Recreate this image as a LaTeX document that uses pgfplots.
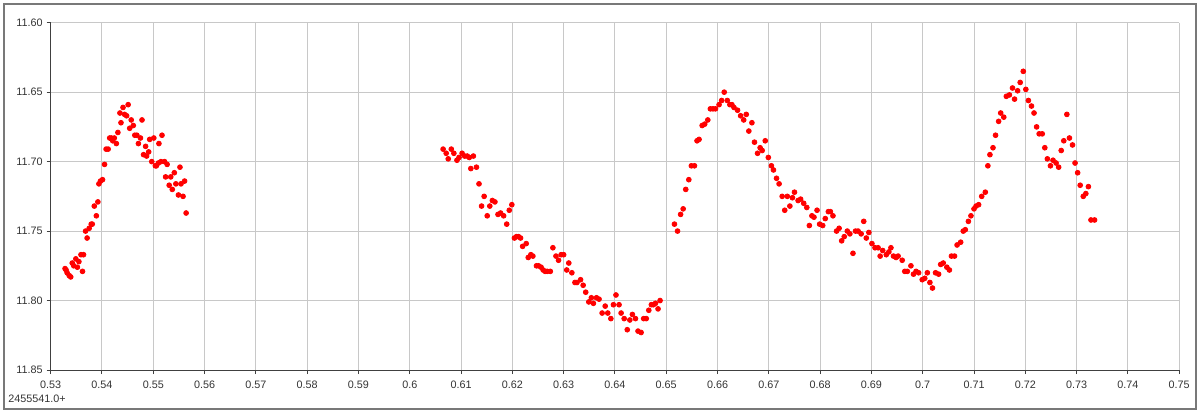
\documentclass[border=0pt]{standalone}
\usepackage{pgfplots}
\pgfplotsset{compat=1.18}
\usepackage{fontspec}
\setmainfont{Liberation Sans}

% 1 px of the reference = 0.5pt
\definecolor{gridgray}{RGB}{200,200,200}
\definecolor{framegray}{RGB}{120,120,120}
\definecolor{axisdark}{RGB}{64,64,64}

\begin{document}
\begin{tikzpicture}
\path[use as bounding box] (-25.35pt,-21.5pt) rectangle (574.65pt,185pt);
\fontsize{5.4}{6.5}\selectfont
\begin{axis}[
  at={(0,0)}, anchor=south west,
  scale only axis,
  width=564.25pt, height=173.65pt,
  xmin=0.53, xmax=0.75,
  ymin=11.60, ymax=11.85,
  y dir=reverse,
  axis lines=left,
  axis line style={axisdark, line width=0.5pt, -},
  xtick={0.53,0.54,0.55,0.56,0.57,0.58,0.59,0.60,0.61,0.62,0.63,0.64,0.65,0.66,0.67,0.68,0.69,0.70,0.71,0.72,0.73,0.74,0.75},
  ytick={11.60,11.65,11.70,11.75,11.80,11.85},
  xticklabel style={/pgf/number format/fixed, /pgf/number format/precision=2, yshift=-1.5pt},
  yticklabel style={/pgf/number format/fixed, /pgf/number format/fixed zerofill, /pgf/number format/precision=2},
  /pgf/number format/assume math mode=true,
  tick label style={font=\fontsize{5.4}{6.5}\selectfont, text=black!80},
  tick align=outside,
  major tick length=2pt,
  tick style={axisdark, line width=0.5pt},
  xmajorgrids=true, ymajorgrids=true,
  grid style={gridgray, line width=0.5pt},
  clip=false,
]
\addplot[only marks, mark=*, mark size=1.2pt, red, mark options={draw=red, fill=red}] coordinates {
(0.5328,11.777) (0.5330,11.778) (0.5332,11.780) (0.5336,11.782) (0.5339,11.783)
(0.5342,11.773) (0.5345,11.775) (0.5349,11.770) (0.5352,11.776) (0.5355,11.772)
(0.5359,11.767) (0.5364,11.767) (0.5362,11.779) (0.5368,11.750) (0.5371,11.755)
(0.5375,11.748) (0.5379,11.745) (0.5381,11.745) (0.5385,11.732) (0.5389,11.739)
(0.5392,11.729) (0.5394,11.716) (0.5397,11.714) (0.5401,11.713) (0.5405,11.702)
(0.5408,11.691) (0.5412,11.691) (0.5415,11.683) (0.5418,11.683) (0.5421,11.685)
(0.5424,11.683) (0.5428,11.687) (0.5431,11.679) (0.5435,11.665) (0.5437,11.672)
(0.5441,11.661) (0.5444,11.666) (0.5448,11.667) (0.5451,11.659) (0.5454,11.676)
(0.5457,11.670) (0.5461,11.674) (0.5464,11.681) (0.5468,11.681) (0.5471,11.687)
(0.5475,11.683) (0.5478,11.670) (0.5481,11.695) (0.5485,11.689) (0.5487,11.696)
(0.5491,11.693) (0.5493,11.684) (0.5497,11.700) (0.5501,11.683) (0.5504,11.703)
(0.5506,11.703) (0.5510,11.701) (0.5511,11.687) (0.5515,11.700) (0.5517,11.681)
(0.5522,11.700) (0.5524,11.711) (0.5527,11.702) (0.5531,11.717) (0.5534,11.711)
(0.5537,11.720) (0.5541,11.708) (0.5544,11.716) (0.5549,11.724) (0.5552,11.704)
(0.5554,11.716) (0.5558,11.725) (0.5561,11.714) (0.5564,11.737)
(0.6065,11.691) (0.6071,11.694) (0.6075,11.698) (0.6081,11.691) (0.6086,11.694)
(0.6092,11.699) (0.6096,11.697) (0.6102,11.694) (0.6107,11.696) (0.6112,11.696)
(0.6116,11.697) (0.6119,11.705) (0.6124,11.696) (0.6130,11.704) (0.6135,11.716)
(0.6140,11.732) (0.6145,11.725) (0.6151,11.739) (0.6156,11.732) (0.6161,11.728)
(0.6166,11.729) (0.6172,11.738) (0.6177,11.737) (0.6183,11.739) (0.6189,11.745)
(0.6194,11.735) (0.6199,11.731) (0.6204,11.755) (0.6208,11.754) (0.6212,11.754)
(0.6216,11.755) (0.6220,11.761) (0.6227,11.759) (0.6231,11.769) (0.6236,11.767)
(0.6240,11.768) (0.6247,11.775) (0.6251,11.775) (0.6256,11.776) (0.6260,11.778)
(0.6264,11.779) (0.6268,11.779) (0.6274,11.779) (0.6279,11.762) (0.6285,11.768)
(0.6290,11.771) (0.6295,11.767) (0.6300,11.767) (0.6306,11.778) (0.6310,11.773)
(0.6316,11.780) (0.6322,11.787) (0.6326,11.787) (0.6333,11.785) (0.6338,11.789)
(0.6343,11.794) (0.6349,11.801) (0.6354,11.798) (0.6358,11.802) (0.6364,11.798)
(0.6369,11.799) (0.6375,11.809) (0.6381,11.804) (0.6386,11.809) (0.6392,11.813)
(0.6397,11.803) (0.6402,11.796) (0.6408,11.803) (0.6412,11.809) (0.6418,11.813)
(0.6424,11.821) (0.6429,11.814) (0.6434,11.810) (0.6440,11.813) (0.6445,11.822)
(0.6451,11.823) (0.6456,11.813) (0.6461,11.813) (0.6466,11.807) (0.6471,11.803)
(0.6475,11.803) (0.6479,11.802) (0.6484,11.806) (0.6488,11.800)
(0.6516,11.745) (0.6522,11.750) (0.6528,11.738) (0.6533,11.734) (0.6538,11.720)
(0.6544,11.713) (0.6549,11.703) (0.6555,11.703) (0.6560,11.685) (0.6564,11.684)
(0.6570,11.674) (0.6575,11.673) (0.6581,11.670) (0.6586,11.662) (0.6591,11.662)
(0.6596,11.662) (0.6603,11.659) (0.6608,11.656) (0.6613,11.650) (0.6619,11.656)
(0.6624,11.659) (0.6628,11.659) (0.6632,11.661) (0.6639,11.663) (0.6645,11.667)
(0.6651,11.670) (0.6656,11.666) (0.6661,11.678) (0.6667,11.672) (0.6672,11.686)
(0.6678,11.694) (0.6683,11.690) (0.6687,11.692) (0.6693,11.685) (0.6699,11.697)
(0.6705,11.703) (0.6709,11.706) (0.6715,11.712) (0.6720,11.716) (0.6726,11.725)
(0.6731,11.735) (0.6736,11.725) (0.6741,11.732) (0.6746,11.726) (0.6750,11.722)
(0.6757,11.728) (0.6762,11.727) (0.6768,11.730) (0.6774,11.733) (0.6779,11.746)
(0.6784,11.739) (0.6788,11.740) (0.6794,11.735) (0.6799,11.745) (0.6805,11.746)
(0.6810,11.741) (0.6816,11.736) (0.6820,11.736) (0.6825,11.739) (0.6832,11.750)
(0.6837,11.748) (0.6842,11.757) (0.6847,11.754) (0.6853,11.750) (0.6858,11.752)
(0.6864,11.766) (0.6869,11.750) (0.6874,11.750) (0.6880,11.752) (0.6885,11.743)
(0.6890,11.755) (0.6895,11.751) (0.6901,11.759) (0.6907,11.762) (0.6913,11.762)
(0.6917,11.768) (0.6922,11.764) (0.6929,11.767) (0.6934,11.765) (0.6938,11.762)
(0.6943,11.768) (0.6948,11.769) (0.6952,11.768)
(0.6960,11.771) (0.6965,11.779) (0.6970,11.779) (0.6977,11.775) (0.6982,11.781)
(0.6987,11.779) (0.6992,11.780) (0.6999,11.785) (0.7004,11.784) (0.7009,11.780)
(0.7014,11.787) (0.7019,11.791) (0.7025,11.780) (0.7031,11.781) (0.7035,11.774)
(0.7040,11.773) (0.7047,11.776) (0.7052,11.778) (0.7056,11.768) (0.7062,11.768)
(0.7067,11.760) (0.7074,11.758) (0.7079,11.750) (0.7083,11.749) (0.7089,11.743)
(0.7094,11.739) (0.7100,11.734) (0.7104,11.732) (0.7109,11.731) (0.7115,11.725)
(0.7122,11.722) (0.7127,11.703) (0.7131,11.695) (0.7137,11.690) (0.7142,11.681)
(0.7148,11.671) (0.7152,11.665) (0.7158,11.668) (0.7163,11.653) (0.7169,11.652)
(0.7175,11.647) (0.7179,11.655) (0.7185,11.649) (0.7190,11.643) (0.7196,11.635)
(0.7201,11.648) (0.7206,11.656) (0.7212,11.660) (0.7217,11.665) (0.7222,11.675)
(0.7227,11.680) (0.7233,11.680) (0.7238,11.690) (0.7243,11.698) (0.7249,11.703)
(0.7254,11.699) (0.7260,11.701) (0.7265,11.704) (0.7270,11.692) (0.7275,11.685)
(0.7281,11.666) (0.7286,11.683) (0.7292,11.688) (0.7297,11.701) (0.7302,11.708)
(0.7307,11.717) (0.7313,11.725) (0.7318,11.723) (0.7323,11.718) (0.7328,11.742)
(0.7335,11.742)
};
\end{axis}
% outer frame of the chart area
\draw[framegray, line width=0.75pt] (-23.35pt,-19.5pt) rectangle (572.65pt,183pt);
\node[anchor=west, inner sep=0pt, text=black!80, font=\fontsize{5.4}{6.5}\selectfont] at (-21.35pt,-14.5pt) {2455541.0+};
\end{tikzpicture}
\end{document}
